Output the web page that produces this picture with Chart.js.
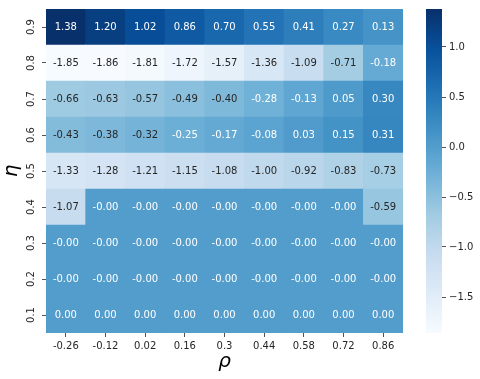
<!DOCTYPE html>
<html lang="en">
<head>
<meta charset="UTF-8">
<title>Heatmap eta / rho</title>
<script src="https://cdn.jsdelivr.net/npm/chart.js"></script>
<style>
  body { margin: 0; background: #fff; }
  .wrap { position: relative; width: 480px; height: 379px; }
  .wrap canvas { position: absolute; left: 0; top: 0; }
</style>
</head>
<body>
<div class="wrap">
  <canvas id="heat" width="480" height="379"></canvas>
  <canvas id="cbar" width="480" height="379"></canvas>
</div>
<script>
// categories
const rho = ['-0.26', '-0.12', '0.02', '0.16', '0.3', '0.44', '0.58', '0.72', '0.86'];
const eta = ['0.1', '0.2', '0.3', '0.4', '0.5', '0.6', '0.7', '0.8', '0.9']; // bottom -> top

// one array per eta row (values shown in cells)
const eta01 = [0.00, 0.00, 0.00, 0.00, 0.00, 0.00, 0.00, 0.00, 0.00];
const eta02 = [-0.001, -0.001, -0.001, -0.001, -0.001, -0.001, -0.001, -0.001, -0.001];
const eta03 = [-0.001, -0.001, -0.001, -0.001, -0.001, -0.001, -0.001, -0.001, -0.001];
const eta04 = [-1.07, -0.001, -0.001, -0.001, -0.001, -0.001, -0.001, -0.001, -0.59];
const eta05 = [-1.33, -1.28, -1.21, -1.15, -1.08, -1.00, -0.92, -0.83, -0.73];
const eta06 = [-0.43, -0.38, -0.32, -0.25, -0.17, -0.08, 0.03, 0.15, 0.31];
const eta07 = [-0.66, -0.63, -0.57, -0.49, -0.40, -0.28, -0.13, 0.05, 0.30];
const eta08 = [-1.85, -1.86, -1.81, -1.72, -1.57, -1.36, -1.09, -0.71, -0.18];
const eta09 = [1.38, 1.20, 1.02, 0.86, 0.70, 0.55, 0.41, 0.27, 0.13];
const rows = [eta01, eta02, eta03, eta04, eta05, eta06, eta07, eta08, eta09];

// colorbar ticks
const cbTicks = [-1.5, -1.0, -0.5, 0.0, 0.5, 1.0];

const vmin = Math.min(...rows.flat());
const vmax = Math.max(...rows.flat());

// matplotlib "Blues"
const blues = ['#f7fbff', '#deebf7', '#c6dbef', '#9ecae1', '#6baed6', '#4292c6', '#2171b5', '#08519c', '#08306b'];

function hexRgb(h) {
    return [parseInt(h.substr(1, 2), 16), parseInt(h.substr(3, 2), 16), parseInt(h.substr(5, 2), 16)];
}

function colorRgb(v) {
    let t = (v - vmin) / (vmax - vmin);
    t = Math.max(0, Math.min(1, t)) * (blues.length - 1);
    const i = Math.min(Math.floor(t), blues.length - 2);
    const f = t - i;
    const a = hexRgb(blues[i]), b = hexRgb(blues[i + 1]);
    return a.map((c, k) => Math.round(c + (b[k] - c) * f));
}

function cellColor(v) {
    const c = colorRgb(v);
    return `rgb(${c[0]},${c[1]},${c[2]})`;
}

function textColor(v) {
    const lin = colorRgb(v).map(c => {
        c = c / 255;
        return c <= 0.03928 ? c / 12.92 : Math.pow((c + 0.055) / 1.055, 2.4);
    });
    const lum = 0.2126 * lin[0] + 0.7152 * lin[1] + 0.0722 * lin[2];
    return lum > 0.408 ? '#262626' : '#ffffff';
}

const annotate = {
    id: 'annotate',
    afterDatasetsDraw(chart) {
        const ctx = chart.ctx;
        ctx.save();
        ctx.font = '10px "DejaVu Sans"';
        ctx.textAlign = 'center';
        ctx.textBaseline = 'middle';
        chart.data.datasets.forEach((ds, i) => {
            chart.getDatasetMeta(i).data.forEach((bar, j) => {
                const v = ds.values[j];
                const p = bar.getCenterPoint();
                ctx.fillStyle = textColor(v);
                ctx.fillText(v.toFixed(2), p.x, p.y);
            });
        });
        ctx.restore();
    }
};

const tickFont = { family: '"DejaVu Sans"', size: 10 };
const tickGrid = { display: true, drawOnChartArea: false, offset: false, tickLength: 4, color: '#262626', tickWidth: 0.8 };

new Chart(document.getElementById('heat'), {
    type: 'bar',
    data: {
        labels: rho,
        datasets: rows.map((r, i) => ({
            label: eta[i],
            values: r,
            data: r.map(() => [i, i + 1]),
            backgroundColor: r.map(cellColor),
            borderWidth: 0,
            barPercentage: 1,
            categoryPercentage: 1,
            grouped: false
        }))
    },
    options: {
        responsive: false,
        animation: false,
        events: [],
        layout: { padding: { top: 7, right: 77, left: 0, bottom: 0 } },
        plugins: { legend: { display: false }, tooltip: { enabled: false } },
        scales: {
            x: {
                type: 'category',
                offset: true,
                grid: tickGrid,
                border: { display: false },
                ticks: { font: tickFont, color: '#262626', padding: 3, maxRotation: 0 },
                title: { display: true, text: 'ρ', color: '#000', padding: { top: 0, bottom: 5 },
                         font: { family: '"DejaVu Sans"', size: 20, style: 'italic' } },
                afterFit: s => { s.height = 46; }
            },
            y: {
                type: 'linear',
                min: 0,
                max: eta.length,
                grid: tickGrid,
                border: { display: false },
                afterBuildTicks: s => { s.ticks = eta.map((_, i) => ({ value: i + 0.5 })); },
                ticks: { font: tickFont, color: '#262626', padding: 3, minRotation: 90, maxRotation: 90,
                         crossAlign: 'center', callback: (v, i) => eta[i] },
                title: { display: true, text: 'η', color: '#000', padding: { top: 0, bottom: 0 },
                         font: { family: '"DejaVu Sans"', size: 20, style: 'italic' } },
                afterFit: s => { s.width = 46; }
            }
        }
    },
    plugins: [annotate]
});

new Chart(document.getElementById('cbar'), {
    type: 'bar',
    data: {
        labels: [''],
        datasets: [{
            data: [[vmin, vmax]],
            backgroundColor: c => {
                const a = c.chart.chartArea;
                if (!a) return blues[4];
                const g = c.chart.ctx.createLinearGradient(0, a.bottom, 0, a.top);
                blues.forEach((col, i) => g.addColorStop(i / (blues.length - 1), col));
                return g;
            },
            borderWidth: 0,
            barPercentage: 1,
            categoryPercentage: 1
        }]
    },
    options: {
        responsive: false,
        animation: false,
        events: [],
        layout: { padding: { top: 7, right: 0, left: 426, bottom: 46 } },
        plugins: { legend: { display: false }, tooltip: { enabled: false } },
        scales: {
            x: { display: false },
            y: {
                position: 'right',
                min: vmin,
                max: vmax,
                grid: tickGrid,
                border: { display: false },
                afterBuildTicks: s => { s.ticks = cbTicks.map(v => ({ value: v })); },
                ticks: { font: tickFont, color: '#262626', padding: 3,
                         callback: v => v.toFixed(1).replace('-', '\u2212') },
                afterFit: s => { s.width = 38; }
            }
        }
    }
});
</script>
</body>
</html>
